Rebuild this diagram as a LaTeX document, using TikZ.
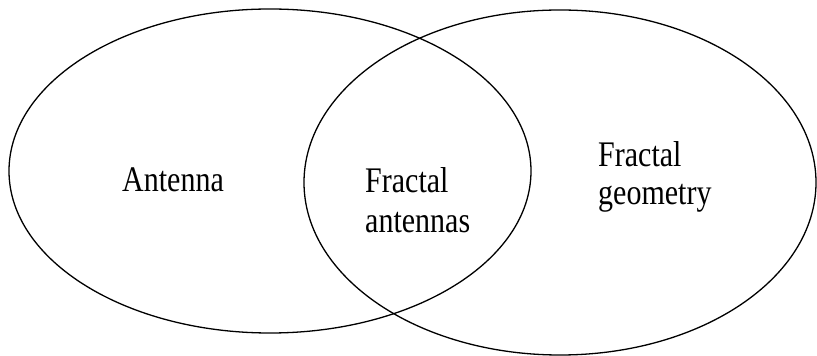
\documentclass[tikz,border=0pt]{standalone}
\usepackage{fontspec}
\setmainfont{Liberation Serif}
\begin{document}
\begin{tikzpicture}[x=1pt,y=1pt,
  set/.style={draw=black,line width=1.3pt},
  lbl/.style={font=\fontsize{30}{34}\selectfont,align=left,inner sep=0pt,anchor=base west,yscale=1.2,transform shape}]
\useasboundingbox (0,0) rectangle (817,356);
\draw[set] (270,185) ellipse [x radius=261pt, y radius=162pt];
\draw[set] (560,173.5) ellipse [x radius=256pt, y radius=172.5pt];
\node[lbl] (antenna) at (122,164) {Antenna};
\node[lbl] (fracant) at (365,123) {Fractal\\antennas};
\node[lbl] (fracgeo) at (598,151) {Fractal\\[-2pt]geometry};
\end{tikzpicture}
\end{document}
